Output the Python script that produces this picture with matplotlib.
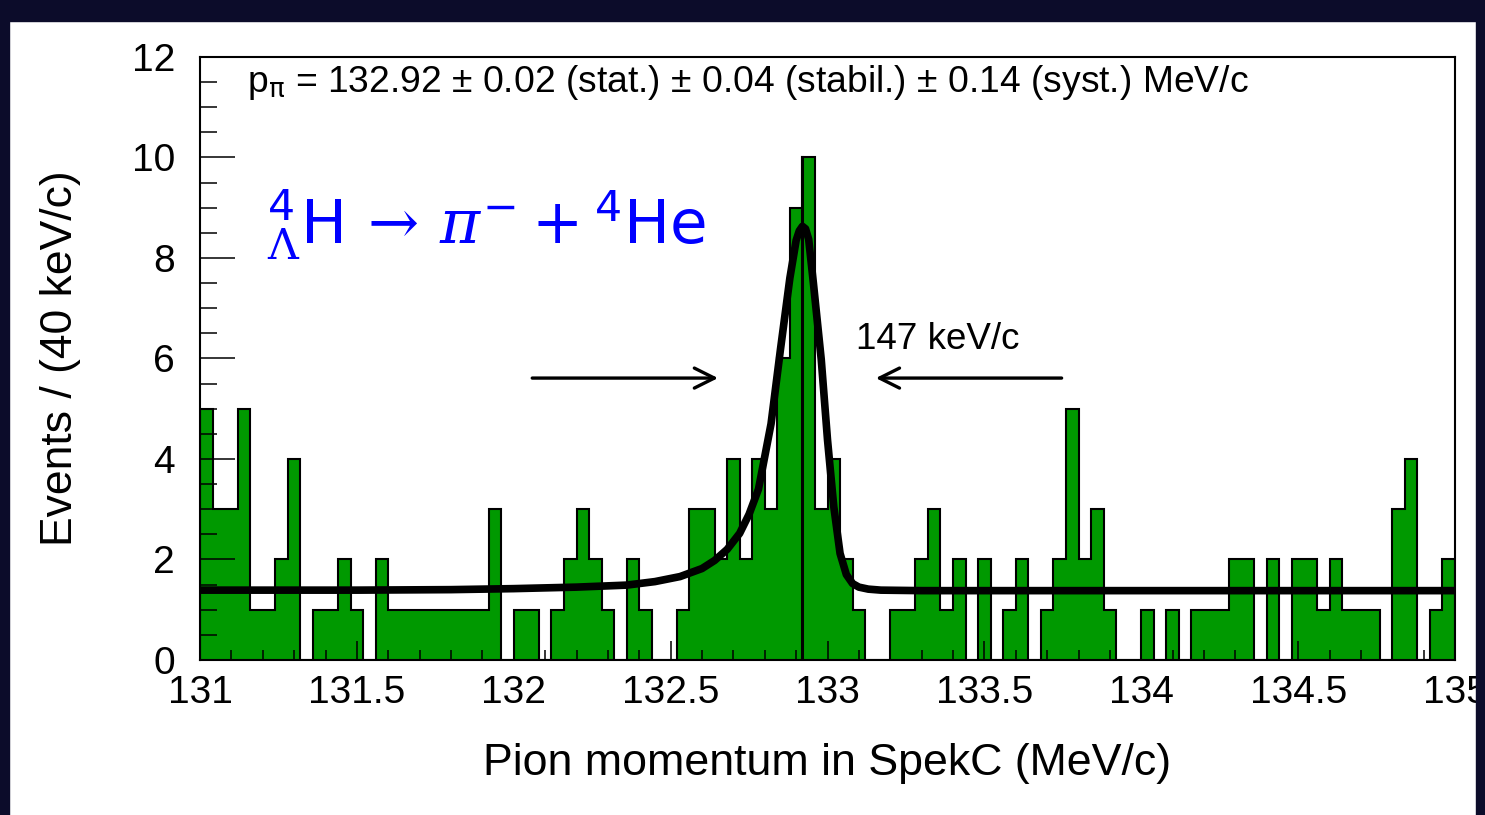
import matplotlib
matplotlib.use("Agg")
import numpy as np
import matplotlib.pyplot as plt
from matplotlib.patches import Rectangle
from matplotlib.ticker import MultipleLocator

# histogram: 100 bins of 40 keV/c between 131 and 135 MeV/c
bin_lo = 131.0
bin_width = 0.04
counts = [5, 3, 3, 5, 1, 1, 2, 4, 0, 1,
          1, 2, 1, 0, 2, 1, 1, 1, 1, 1,
          1, 1, 1, 3, 0, 1, 1, 0, 1, 2,
          3, 2, 1, 0, 2, 1, 0, 0, 1, 3,
          3, 2, 4, 2, 4, 3, 6, 9, 10, 3,
          4, 2, 1, 0, 0, 1, 1, 2, 3, 1,
          2, 0, 2, 0, 1, 2, 0, 1, 2, 5,
          2, 3, 1, 0, 0, 1, 0, 1, 0, 1,
          1, 1, 2, 2, 0, 2, 0, 2, 2, 1,
          2, 1, 1, 1, 0, 3, 4, 0, 1, 2]

# fit curve
fit_x = [131.0, 131.5, 131.8, 132.0, 132.2, 132.36, 132.45, 132.53, 132.6, 132.64,
         132.68, 132.72, 132.75, 132.78, 132.8, 132.82, 132.85, 132.88, 132.9, 132.91,
         132.92, 132.93, 132.94, 132.955, 132.98, 133.0, 133.02, 133.04, 133.06, 133.08,
         133.1, 133.13, 133.17, 133.3, 134.0, 135.0]
fit_y = [1.39, 1.39, 1.40, 1.42, 1.45, 1.49, 1.56, 1.66, 1.82, 1.98,
         2.2, 2.52, 2.9, 3.4, 4.05, 4.7, 6.18, 7.6, 8.35, 8.54,
         8.63, 8.58, 8.37, 7.5, 5.98, 4.38, 3.05, 2.12, 1.7, 1.52,
         1.45, 1.41, 1.39, 1.38, 1.38, 1.38]

peak_pos = 132.92
fwhm_text = "147 keV/c"
result_text = "p$_{\\mathsf{\\pi}}$ = 132.92 ± 0.02 (stat.) ± 0.04 (stabil.) ± 0.14 (syst.) MeV/c"
reaction_text = r"$^{\mathsf{4}}_{\Lambda}\mathsf{H}\,\rightarrow\,\pi^{-}+{}^{\mathsf{4}}\mathsf{He}$"

plt.rcParams["font.family"] = ["Liberation Sans", "DejaVu Sans"]
plt.rcParams["mathtext.fontset"] = "custom"
plt.rcParams["mathtext.rm"] = "DejaVu Serif"
plt.rcParams["mathtext.it"] = "DejaVu Serif:italic"
plt.rcParams["mathtext.sf"] = "DejaVu Sans"

green = "#009900"

fig = plt.figure(figsize=(14.85, 8.15), dpi=100)
fig.patch.set_facecolor("white")
ax = fig.add_axes([0.1347, 0.1902, 0.8451, 0.7399])

edges = bin_lo + bin_width * np.arange(len(counts) + 1)
ax.stairs(counts, edges, fill=True, color=green, zorder=1)
ax.stairs(counts, edges, color="black", lw=1.5, zorder=2)
ax.plot([peak_pos, peak_pos], [0, 10], color="black", lw=2.2, zorder=3)
ax.plot(fit_x, fit_y, color="black", lw=5.5, solid_joinstyle="round",
        solid_capstyle="round", zorder=4)

ax.set_xlim(131, 135)
ax.set_ylim(0, 12)
ax.xaxis.set_major_locator(MultipleLocator(0.5))
ax.xaxis.set_minor_locator(MultipleLocator(0.1))
ax.yaxis.set_major_locator(MultipleLocator(2))
ax.yaxis.set_minor_locator(MultipleLocator(0.5))
ax.xaxis.set_major_formatter(matplotlib.ticker.FuncFormatter(lambda v, p: f"{v:g}"))
ax.tick_params(axis="x", which="major", direction="in", length=14, width=1.1,
               labelsize=28, pad=11)
ax.tick_params(axis="x", which="minor", direction="in", length=7, width=1.1)
ax.tick_params(axis="y", which="major", direction="in", length=25, width=1.1,
               labelsize=28, pad=18)
ax.tick_params(axis="y", which="minor", direction="in", length=12, width=1.1)
for sp in ax.spines.values():
    sp.set_linewidth(1.5)

ax.set_xlabel("Pion momentum in SpekC (MeV/c)", fontsize=32.2)
ax.set_ylabel("Events / (40 keV/c)", fontsize=32)
ax.xaxis.set_label_coords(0.5, -0.137)
ax.yaxis.set_label_coords(-0.095, 0.5)

ax.text(131.15, 11.5, result_text, fontsize=26.8, va="center", ha="left")
ax.text(131.215, 8.26, reaction_text, fontsize=44, color="#0000ff",
        va="baseline", ha="left")
ax.text(133.09, 6.38, fwhm_text, fontsize=26.5, va="center", ha="left")

ax.annotate("", xy=(132.66, 5.61), xytext=(132.05, 5.61),
            arrowprops=dict(arrowstyle="->", lw=2.4, color="black",
                            mutation_scale=36))
ax.annotate("", xy=(133.145, 5.61), xytext=(133.755, 5.61),
            arrowprops=dict(arrowstyle="->", lw=2.4, color="black",
                            mutation_scale=36))

# dark slide border
navy = "#0c0c2a"
fig.add_artist(Rectangle((0, 0.9742), 1, 0.0258, transform=fig.transFigure,
                         color=navy, zorder=10))
fig.add_artist(Rectangle((0, 0), 0.006, 1, transform=fig.transFigure,
                         color=navy, zorder=10))
fig.add_artist(Rectangle((0.9939, 0), 0.0061, 1, transform=fig.transFigure,
                         color=navy, zorder=10))

fig.savefig("out.png", dpi=100, facecolor=fig.get_facecolor())
